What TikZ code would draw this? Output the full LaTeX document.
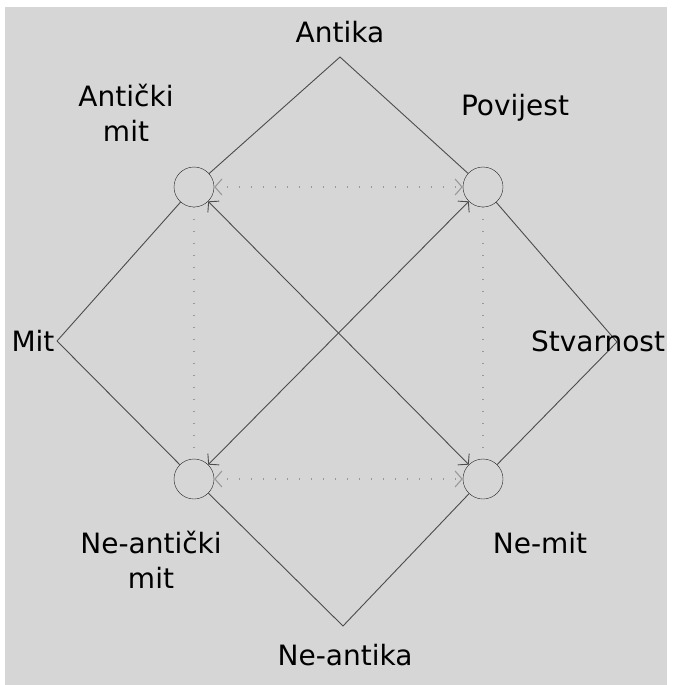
\documentclass[tikz,border=0pt]{standalone}
\usepackage{fontspec}
\setmainfont{DejaVu Sans}
\usetikzlibrary{arrows.meta}

\definecolor{pozadina}{RGB}{214,214,214}
\tikzset{
	stanje/.style={draw=black!85, circle, minimum size=40pt, inner sep=0pt},
	oznaka/.style={font=\fontsize{28}{35}\selectfont, align=center, inner sep=0pt},
	veza/.style={draw=black!70, line width=0.9pt},
	odnos/.style={draw=black!40, line width=1.1pt, dash pattern=on 1pt off 11pt},
	>={Straight Barb[length=7pt, width=16pt]}
}

\begin{document}
\begin{tikzpicture}[x=1pt, y=-1pt]
	\useasboundingbox (0,0) rectangle (675,685);
	\fill [pozadina] (5,7) rectangle (667,685);

	\coordinate (A) at (340,57);
	\coordinate (M) at (57,341);
	\coordinate (S) at (617,342);
	\coordinate (N) at (343,626);

	\node [stanje] (am) at (194,187) {};
	\node [stanje] (pov) at (483,187) {};
	\node [stanje] (nam) at (194,479) {};
	\node [stanje] (nm) at (483,479) {};

	% vanjski kvadrat
	\draw [veza] (M) -- (am) -- (A) -- (pov) -- (S) -- (nm) -- (N) -- (nam) -- (M);

	% odnosi unutar kvadrata
	\draw [odnos, <->] (am) -- (pov);
	\draw [odnos, <->] (nam) -- (nm);
	\draw [odnos] (am) -- (nam);
	\draw [odnos] (pov) -- (nm);
	\draw [veza, <->] (am) -- (nm);
	\draw [veza, <->] (nam) -- (pov);

	\node [oznaka] (antika) at (340,32) {Antika};
	\node [oznaka] (antmit) at (126,113) {Antički\\mit};
	\node [oznaka] (povijest) at (515,108) {Povijest};
	\node [oznaka] (mit) at (33,341) {Mit};
	\node [oznaka] (stvarnost) at (598,341) {Stvarnost};
	\node [oznaka] (neantmit) at (151,560) {Ne-antički\\mit};
	\node [oznaka] (nemit) at (540,543) {Ne-mit};
	\node [oznaka] (neantika) at (345,655) {Ne-antika};
\end{tikzpicture}
\end{document}
